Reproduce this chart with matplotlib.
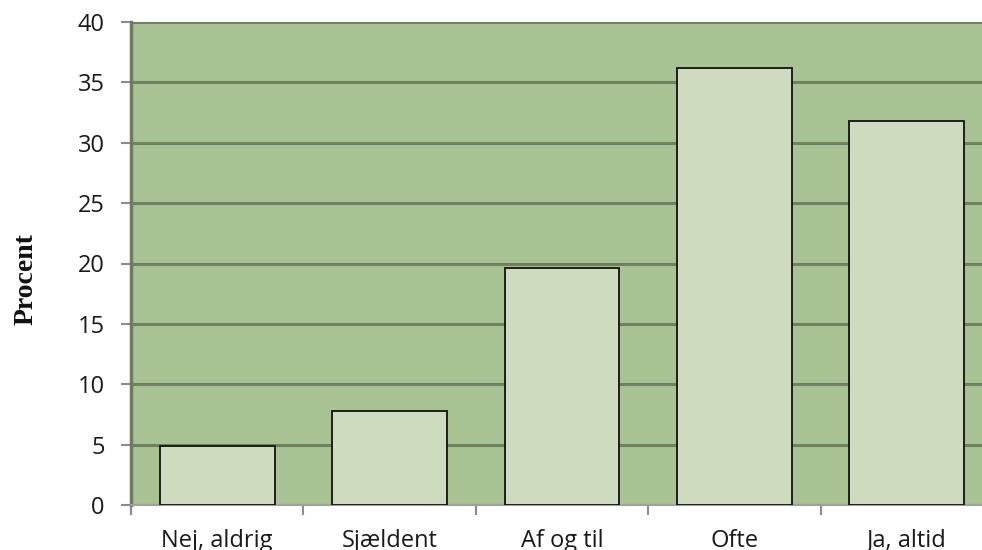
import matplotlib
matplotlib.use("Agg")
import matplotlib.pyplot as plt
import numpy as np

categories = ["Nej, aldrig", "Sjældent", "Af og til", "Ofte", "Ja, altid"]
values = [4.9, 7.8, 19.6, 36.2, 31.8]
y_ticks = [0, 5, 10, 15, 20, 25, 30, 35, 40]

W, H = 982, 550
fig = plt.figure(figsize=(W / 100, H / 100), dpi=100)

# plot area in pixel coordinates (extends a little past the right edge)
left, right, top, bottom = 131, 993, 22, 505
ax = fig.add_axes([left / W, 1 - bottom / H, (right - left) / W, (bottom - top) / H])
ax.set_facecolor("#A8C294")

x = np.arange(len(categories))
ax.bar(x, values, width=0.665, color="#CEDBBE", edgecolor="#111111",
       linewidth=1.3, zorder=3)

ax.set_xlim(-0.5, len(categories) - 0.5)
ax.set_ylim(0, 40)
ax.set_yticks(y_ticks)
ax.yaxis.grid(True, color="#6E8262", linewidth=2.2, zorder=1)
ax.set_axisbelow(True)

ax.set_xticks(x)
ax.set_xticklabels(categories, fontsize=17, family="Open Sans", color="#1a1a1a")
ax.set_xticks(np.arange(len(categories) + 1) - 0.5, minor=True)
ax.tick_params(axis="x", which="major", length=0, pad=17)
ax.tick_params(axis="x", which="minor", length=7, width=1.5, color="#8C8C8C")
ax.tick_params(axis="y", length=7, width=1.5, color="#8C8C8C", pad=12,
               labelsize=17, labelcolor="#1a1a1a")
for lbl in ax.get_yticklabels():
    lbl.set_family("Open Sans")

for s in ["top", "right"]:
    ax.spines[s].set_visible(False)
ax.spines["left"].set_color("#6B7D5E")
ax.spines["left"].set_linewidth(2.5)
ax.spines["bottom"].set_color("#A0A0A0")
ax.spines["bottom"].set_linewidth(1.5)

fig.text(26 / W, 1 - 279 / H, "Procent", rotation=90, ha="center", va="center",
         fontsize=20, fontweight="bold", family="Liberation Serif", color="#111111")

fig.savefig("out.png", dpi=100)
